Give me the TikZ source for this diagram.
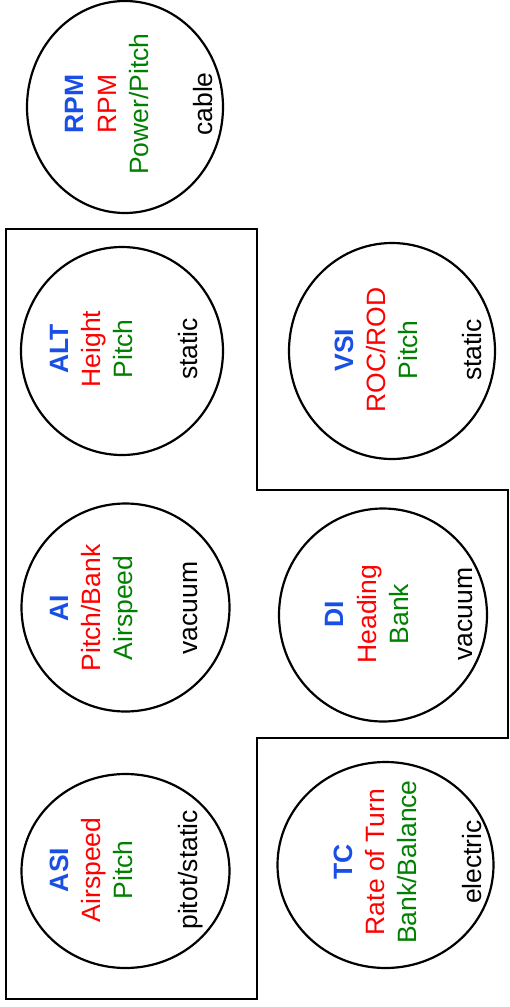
\documentclass[tikz,border=0pt]{standalone}
\usepackage{fontspec}
\setmainfont{Liberation Sans}
\usetikzlibrary{shapes.geometric}
\definecolor{hdblue}{RGB}{26,79,230}
\definecolor{valred}{RGB}{255,0,0}
\definecolor{valgreen}{RGB}{0,128,0}
\tikzset{
  gauge/.style={draw, ellipse, line width=2.2pt, inner sep=0pt},
  lbl/.style={rotate=90, anchor=base, inner sep=0pt, font=\fontsize{26.5}{31}\selectfont},
  hd/.style={lbl, text=hdblue, font=\fontsize{26.5}{31}\selectfont\bfseries},
  rd/.style={lbl, text=valred},
  gr/.style={lbl, text=valgreen},
  bk/.style={lbl, text=black},
  panel/.style={draw, line width=2.2pt, line join=miter}
}
\begin{document}
\begin{tikzpicture}[x=1pt,y=1pt]
\useasboundingbox (0,0) rectangle (509,-1007);
% panel outline
\draw[panel] (6,-229) -- (257,-229) -- (257,-490) -- (508,-490) -- (508,-738)
  -- (257,-738) -- (257,-999) -- (6,-999) -- cycle;
% gauges
\node[gauge, minimum width=196pt, minimum height=212pt] (rpm) at (125,-107) {};
\node[gauge, minimum width=202pt, minimum height=208pt] (alt) at (122,-351) {};
\node[gauge, minimum width=206pt, minimum height=216pt] (vsi) at (392,-351) {};
\node[gauge, minimum width=208pt, minimum height=208pt] (ai) at (125.5,-607.5) {};
\node[gauge, minimum width=208pt, minimum height=213pt] (di) at (383,-615) {};
\node[gauge, minimum width=208pt, minimum height=194pt] (asi) at (125.5,-871) {};
\node[gauge, minimum width=216pt, minimum height=206pt] (tc) at (385.5,-865) {};
% RPM
\node[hd] (rpm1) at (83,-104) {RPM};
\node[rd] (rpm2) at (116,-104) {RPM};
\node[gr] (rpm3) at (148,-104) {Power/Pitch};
\node[bk] (rpm4) at (212,-104) {cable};
% ALT
\node[hd] (alt1) at (68,-349) {ALT};
\node[rd] (alt2) at (100,-349) {Height};
\node[gr] (alt3) at (132,-349) {Pitch};
\node[bk] (alt4) at (197,-349) {static};
% VSI
\node[hd] (vsi1) at (353,-350) {VSI};
\node[rd] (vsi2) at (385,-350) {ROC/ROD};
\node[gr] (vsi3) at (417,-350) {Pitch};
\node[bk] (vsi4) at (481,-350) {static};
% AI
\node[hd] (ai1) at (68,-608) {AI};
\node[rd] (ai2) at (100,-608) {Pitch/Bank};
\node[gr] (ai3) at (132,-608) {Airspeed};
\node[bk] (ai4) at (197,-608) {vacuum};
% DI
\node[hd] (di1) at (343,-614) {DI};
\node[rd] (di2) at (376,-614) {Heading};
\node[gr] (di3) at (408,-614) {Bank};
\node[bk] (di4) at (472,-614) {vacuum};
% ASI
\node[hd] (asi1) at (68,-870) {ASI};
\node[rd] (asi2) at (100,-870) {Airspeed};
\node[gr] (asi3) at (132,-870) {Pitch};
\node[bk] (asi4) at (197,-870) {pitot/static};
% TC
\node[hd] (tc1) at (352,-862) {TC};
\node[rd] (tc2) at (384,-862) {Rate of Turn};
\node[gr] (tc3) at (416,-862) {Bank/Balance};
\node[bk] (tc4) at (481,-862) {electric};
\end{tikzpicture}
\end{document}
